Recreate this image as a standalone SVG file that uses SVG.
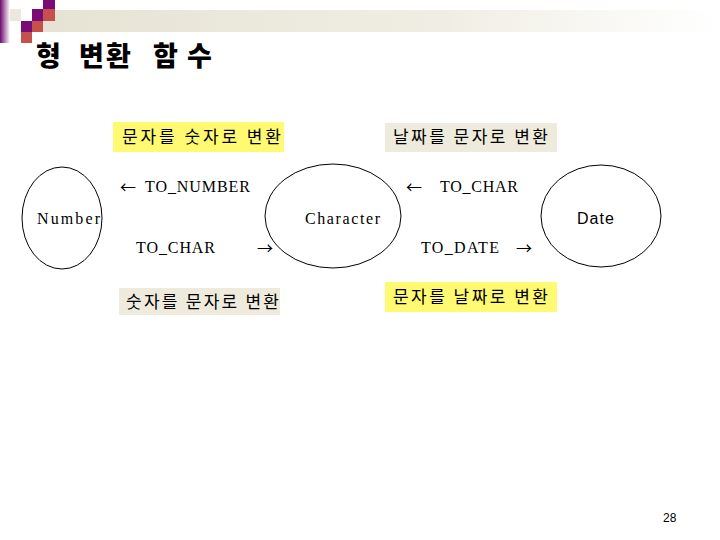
<svg xmlns="http://www.w3.org/2000/svg" width="720" height="540" viewBox="0 0 720 540">
<defs>
<linearGradient id="barGrad" x1="0" y1="0" x2="1" y2="0">
<stop offset="0" stop-color="#e6e3d4"/>
<stop offset="0.6" stop-color="#f0eee4"/>
<stop offset="1" stop-color="#ffffff"/>
</linearGradient>
<linearGradient id="sideGrad" x1="0" y1="0" x2="1" y2="0">
<stop offset="0" stop-color="#6e0a6e"/>
<stop offset="1" stop-color="#ffffff"/>
</linearGradient>
<style>
.node{fill:none;stroke:#000;stroke-width:1}
.serif{font-family:"Liberation Serif","DejaVu Serif",serif;font-size:16px;fill:#000}
.sans{font-family:"Liberation Sans","DejaVu Sans",sans-serif;font-size:16px;fill:#000}
.conn{font-family:"Liberation Serif","DejaVu Serif",serif;font-size:16px;fill:#000}
.arr{font-family:"Noto Sans CJK KR",sans-serif;font-size:16px;fill:#000}
.kr{font-family:"Noto Sans CJK KR","Noto Sans",sans-serif;font-size:17px;fill:#000}
.yel{fill:#fffa72}
.beige{fill:#eeebdd}
.pur{fill:#7a0c78}
.red{fill:#c6504c}
</style>
</defs>
<rect width="720" height="540" fill="#ffffff"/>
<g id="header">
<rect x="40" y="10" width="680" height="22" fill="url(#barGrad)"/>
<rect x="0" y="0" width="10" height="43" fill="url(#sideGrad)"/>
<rect x="10" y="9" width="11" height="12" fill="#ece9dc"/>
<rect class="pur" x="43" y="0" width="12" height="9"/>
<rect class="pur" x="32" y="9" width="11" height="12"/>
<rect class="red" x="43" y="9" width="12" height="12"/>
<rect class="pur" x="21" y="21" width="11" height="11"/>
<rect class="red" x="32" y="21" width="11" height="11"/>
<rect class="red" x="21" y="32" width="11" height="11"/>
<text y="66" font-family="'Noto Sans CJK KR',sans-serif" font-size="27" font-weight="900" fill="#000"><tspan x="36">형 </tspan><tspan x="79">변</tspan><tspan x="106">환 </tspan><tspan x="153">함</tspan><tspan x="187">수</tspan></text>
</g>
<g id="number">
<ellipse class="node" cx="62" cy="218" rx="40" ry="51"/>
<text class="serif" x="37" y="224" textLength="63" lengthAdjust="spacing">Number</text>
</g>
<g id="character">
<ellipse class="node" cx="333" cy="216" rx="68" ry="52"/>
<text class="serif" x="305" y="224" textLength="75" lengthAdjust="spacing">Character</text>
</g>
<g id="date">
<ellipse class="node" cx="601" cy="216" rx="60" ry="51"/>
<text class="sans" x="577" y="224" textLength="37" lengthAdjust="spacing">Date</text>
</g>
<g id="connectors">
<text class="arr" x="120" y="193">←</text>
<text class="conn" x="145" y="192" textLength="105" lengthAdjust="spacing">TO_NUMBER</text>
<text class="conn" x="136" y="253" textLength="79" lengthAdjust="spacing">TO_CHAR</text>
<text class="arr" x="257" y="254">→</text>
<text class="arr" x="406" y="193">←</text>
<text class="conn" x="440" y="192" textLength="78" lengthAdjust="spacing">TO_CHAR</text>
<text class="conn" x="421" y="253" textLength="78" lengthAdjust="spacing">TO_DATE</text>
<text class="arr" x="516" y="254">→</text>
</g>
<g id="label-char-to-num">
<rect class="yel" x="113" y="122" width="171" height="30"/>
<text class="kr" x="122" y="143" textLength="159" lengthAdjust="spacing">문자를 숫자로 변환</text>
</g>
<g id="label-num-to-char">
<rect class="beige" x="119" y="288" width="161" height="27"/>
<text class="kr" x="126" y="308" textLength="153" lengthAdjust="spacing">숫자를 문자로 변환</text>
</g>
<g id="label-date-to-char">
<rect class="beige" x="385" y="123" width="172" height="29"/>
<text class="kr" x="393" y="143" textLength="155" lengthAdjust="spacing">날짜를 문자로 변환</text>
</g>
<g id="label-char-to-date">
<rect class="yel" x="385" y="282" width="172" height="30"/>
<text class="kr" x="393" y="303" textLength="155" lengthAdjust="spacing">문자를 날짜로 변환</text>
</g>
<text x="663" y="522" font-family="'Liberation Sans',sans-serif" font-size="12" fill="#000">28</text>
</svg>
